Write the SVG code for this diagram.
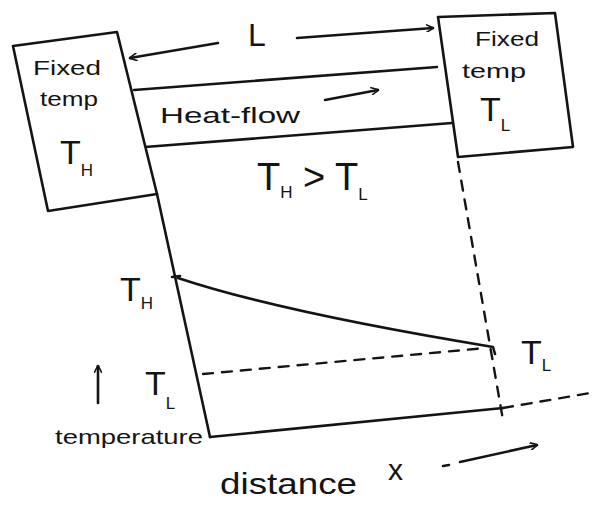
<svg xmlns="http://www.w3.org/2000/svg" width="593" height="507" viewBox="0 0 593 507">
<defs>
<style>
.ln{fill:none;stroke:#141414;stroke-width:2.6;stroke-linecap:round;stroke-linejoin:round}
.ds{fill:none;stroke:#141414;stroke-width:2.4;stroke-dasharray:10 9;stroke-linecap:round}
.box{fill:#fff;stroke:#141414;stroke-width:2.6;stroke-linejoin:round}
.t{font-family:"Liberation Sans",Arial,sans-serif;fill:#141414}
.sm{font-size:20px}
.big{font-size:34px}
.sub{font-size:17px}
</style>
<marker id="ah" viewBox="0 0 10 10" refX="9" refY="5" markerWidth="8" markerHeight="8" orient="auto-start-reverse" markerUnits="userSpaceOnUse">
<path d="M0,0 L10,5 L0,10" fill="none" stroke="#141414" stroke-width="2"/>
</marker>
</defs>
<rect width="593" height="507" fill="#fff"/>

<g id="connectors">
<line class="ln" x1="218" y1="43" x2="130" y2="58" marker-end="url(#ah)"/>
<line class="ln" x1="297" y1="38" x2="433" y2="28" marker-end="url(#ah)"/>
<line class="ln" x1="134" y1="90" x2="437" y2="67"/>
<line class="ln" x1="145" y1="147" x2="452" y2="123"/>
<line class="ln" x1="325" y1="100" x2="378" y2="90" marker-end="url(#ah)"/>
<line class="ln" x1="157" y1="194" x2="210" y2="437"/>
<line class="ln" x1="210" y1="437" x2="503" y2="408"/>
<line class="ds" x1="503" y1="408" x2="590" y2="393"/>
<line class="ds" x1="458" y1="162" x2="503" y2="420"/>
<path class="ln" d="M178,278 Q280,312 493,347 L495,354"/>
<line class="ln" x1="172" y1="277" x2="180" y2="276"/>
<line class="ds" x1="203" y1="374" x2="486" y2="348"/>
<line class="ln" x1="98" y1="403" x2="98" y2="366" marker-end="url(#ah)"/>
<line class="ln" x1="443" y1="466" x2="449" y2="465"/>
<line class="ln" x1="460" y1="462" x2="537" y2="445" marker-end="url(#ah)"/>
</g>

<g id="hot-reservoir">
<polygon class="box" points="13,46 117,32 157,194 48,211"/>
<text class="t sm" x="33" y="75" textLength="68" lengthAdjust="spacingAndGlyphs">Fixed</text>
<text class="t sm" x="40" y="106" textLength="58" lengthAdjust="spacingAndGlyphs">temp</text>
<text class="t big" x="60" y="164">T<tspan class="sub" dy="12">H</tspan></text>
</g>

<g id="cold-reservoir">
<polygon class="box" points="438,17 555,13 573,147 458,157"/>
<text class="t sm" x="475" y="46" textLength="64" lengthAdjust="spacingAndGlyphs">Fixed</text>
<text class="t sm" x="462" y="78" textLength="64" lengthAdjust="spacingAndGlyphs">temp</text>
<text class="t big" x="480" y="121">T<tspan class="sub" dy="10">L</tspan></text>
</g>

<g id="labels">
<text class="t" x="248" y="46" font-size="32">L</text>
<text class="t" x="160" y="123" font-size="22" textLength="140" lengthAdjust="spacingAndGlyphs">Heat-flow</text>
<text class="t" x="257" y="190" font-size="38">T<tspan class="sub" dy="8">H</tspan><tspan dy="-8"> &gt; T</tspan><tspan class="sub" dy="10">L</tspan></text>
<text class="t big" x="120" y="301">T<tspan class="sub" dy="8">H</tspan></text>
<text class="t big" x="145" y="395">T<tspan class="sub" dy="14">L</tspan></text>
<text class="t" x="55" y="444" font-size="21" textLength="148" lengthAdjust="spacingAndGlyphs">temperature</text>
<text class="t big" x="521" y="364">T<tspan class="sub" dy="7">L</tspan></text>
<text class="t" x="220" y="494" font-size="30" textLength="137" lengthAdjust="spacingAndGlyphs">distance</text>
<text class="t" x="388" y="480" font-size="30">x</text>
</g>
</svg>
